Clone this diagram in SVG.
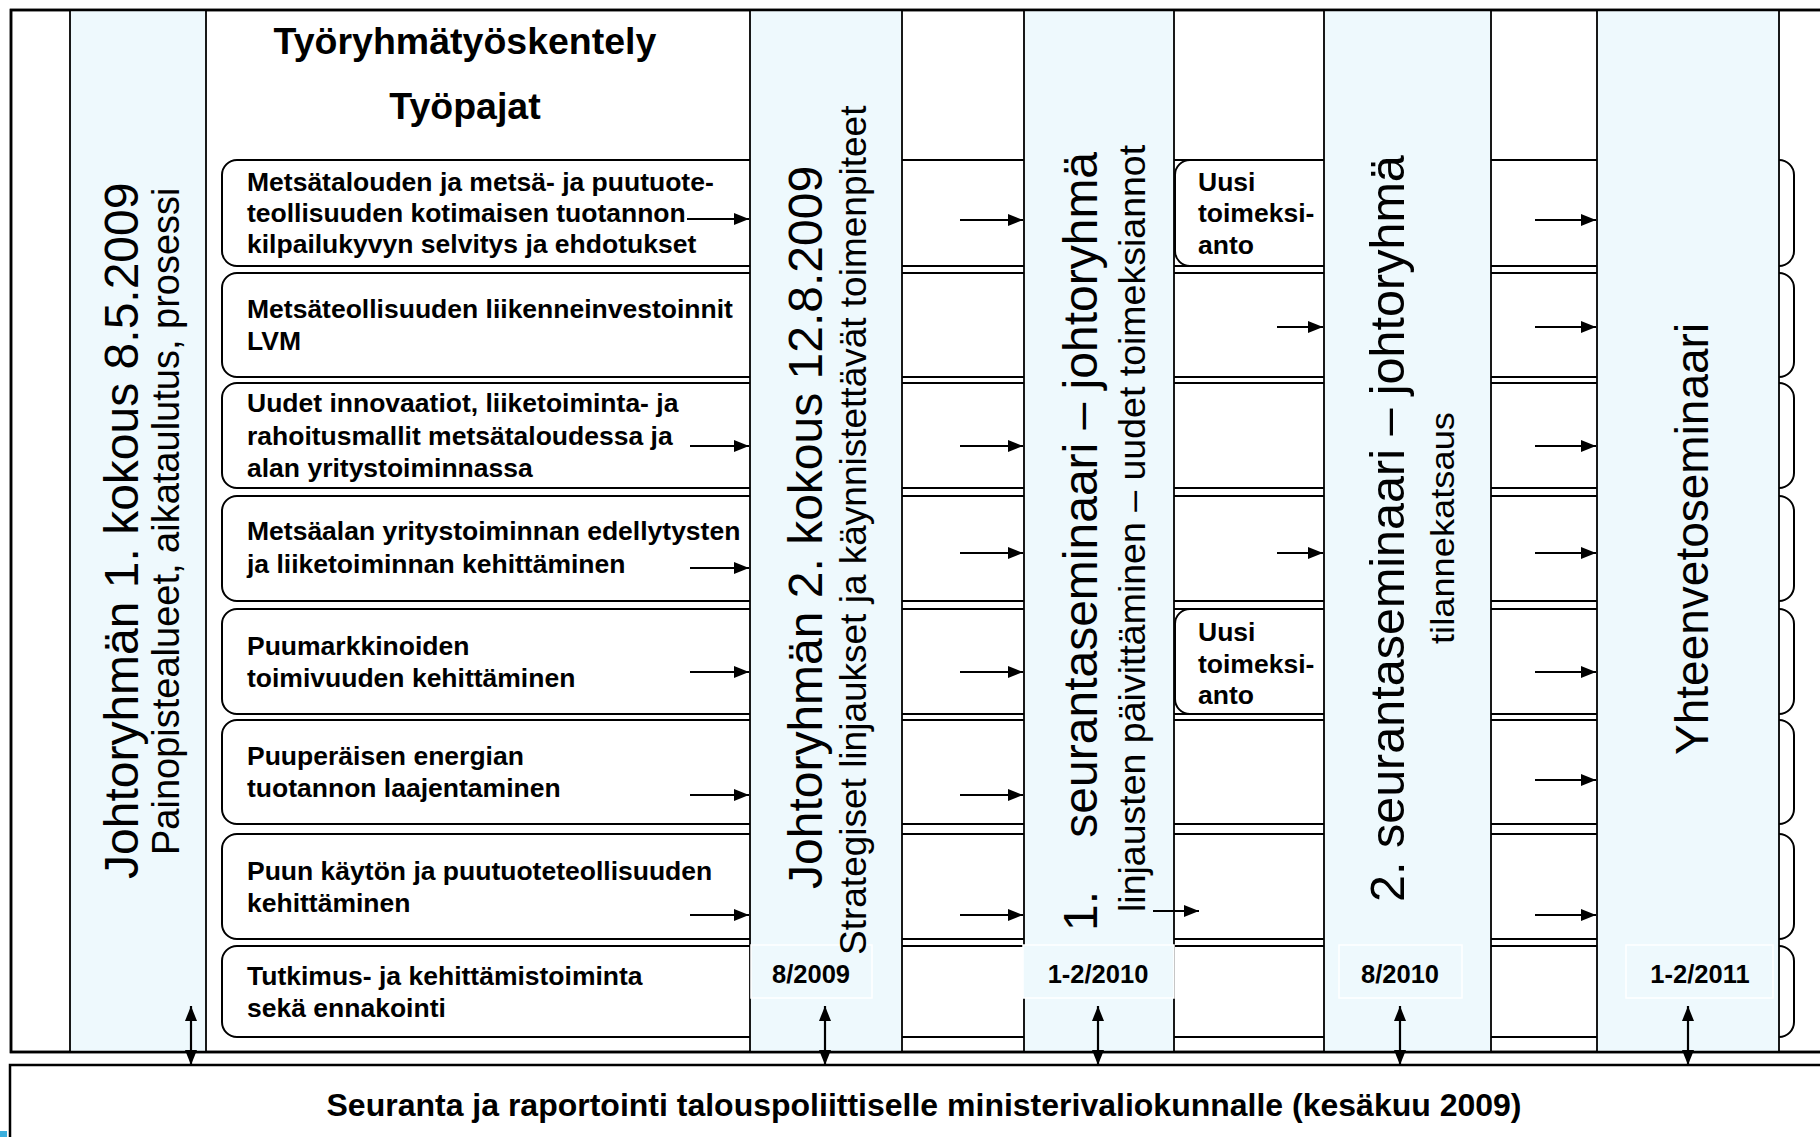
<svg xmlns="http://www.w3.org/2000/svg" width="1820" height="1137" viewBox="0 0 1820 1137">
<defs>
<marker id="ah" viewBox="0 0 15 12" refX="15" refY="6" markerWidth="15" markerHeight="12" markerUnits="userSpaceOnUse" orient="auto-start-reverse"><path d="M0,0 L15,6 L0,12 z" fill="#000"/></marker>
<style>
.frame{fill:#fff;stroke:#000;stroke-width:2.5}
.outline{fill:none;stroke:#000;stroke-width:2.5}
.col{fill:#EEF9FD;stroke:#000;stroke-width:1.8}
.box{fill:#fff;stroke:#000;stroke-width:2}
.date{fill:#EEF9FD;stroke:#fff;stroke-width:1.5}
.bt{font-family:"Liberation Sans",Arial,sans-serif;font-weight:bold;font-size:26.5px;fill:#000}
.ttl{font-family:"Liberation Sans",Arial,sans-serif;font-weight:bold;font-size:37.5px;fill:#000;text-anchor:middle}
.dt{font-family:"Liberation Sans",Arial,sans-serif;font-weight:bold;font-size:25.5px;fill:#000;text-anchor:middle}
.vb{font-family:"Liberation Sans",Arial,sans-serif;font-size:48px;fill:#000}
.vs{font-family:"Liberation Sans",Arial,sans-serif;font-size:37px;fill:#000}
.arr{stroke:#000;stroke-width:2.2;fill:none;marker-end:url(#ah)}
.darr{stroke:#000;stroke-width:2.2;fill:none;marker-start:url(#ah);marker-end:url(#ah)}
</style>
</defs>
<rect x="0" y="0" width="1820" height="1137" fill="#fff"/>
<rect class="frame" x="11" y="10" width="1840" height="1042"/>
<rect x="0" y="1131" width="7" height="6" fill="#3AAEDC"/>

<g id="col-johtoryhma1">
<rect class="col" x="70" y="10" width="136" height="1042"/>
<text class="vb" transform="translate(138,879) rotate(-90)">Johtoryhmän 1. kokous 8.5.2009</text>
<text class="vs" style="font-size:38px" transform="translate(179,855) rotate(-90)">Painopistealueet, aikataulutus, prosessi</text>
</g>

<g id="titles">
<text class="ttl" x="465" y="54">Työryhmätyöskentely</text>
<text class="ttl" x="465" y="119">Työpajat</text>
</g>

<g id="ws1"><rect class="box" x="222" y="160" width="1572" height="106" rx="15"/>
<text class="bt"><tspan x="247" y="191">Metsätalouden ja metsä- ja puutuote-</tspan><tspan x="247" y="222">teollisuuden kotimaisen tuotannon</tspan><tspan x="247" y="253">kilpailukyvyn selvitys ja ehdotukset</tspan></text></g>
<g id="ws2"><rect class="box" x="222" y="273" width="1572" height="104" rx="15"/>
<text class="bt"><tspan x="247" y="318">Metsäteollisuuden liikenneinvestoinnit</tspan><tspan x="247" y="350">LVM</tspan></text></g>
<g id="ws3"><rect class="box" x="222" y="383" width="1572" height="105" rx="15"/>
<text class="bt"><tspan x="247" y="412">Uudet innovaatiot, liiketoiminta- ja</tspan><tspan x="247" y="445">rahoitusmallit metsätaloudessa ja</tspan><tspan x="247" y="477">alan yritystoiminnassa</tspan></text></g>
<g id="ws4"><rect class="box" x="222" y="496" width="1572" height="105" rx="15"/>
<text class="bt"><tspan x="247" y="540">Metsäalan yritystoiminnan edellytysten</tspan><tspan x="247" y="573">ja liiketoiminnan kehittäminen</tspan></text></g>
<g id="ws5"><rect class="box" x="222" y="609" width="1572" height="105" rx="15"/>
<text class="bt"><tspan x="247" y="655">Puumarkkinoiden</tspan><tspan x="247" y="687">toimivuuden kehittäminen</tspan></text></g>
<g id="ws6"><rect class="box" x="222" y="720" width="1572" height="104" rx="15"/>
<text class="bt"><tspan x="247" y="765">Puuperäisen energian</tspan><tspan x="247" y="797">tuotannon laajentaminen</tspan></text></g>
<g id="ws7"><rect class="box" x="222" y="834" width="1572" height="105" rx="15"/>
<text class="bt"><tspan x="247" y="880">Puun käytön ja puutuoteteollisuuden</tspan><tspan x="247" y="912">kehittäminen</tspan></text></g>
<g id="ws8"><rect class="box" x="222" y="946" width="1572" height="91" rx="15"/>
<text class="bt"><tspan x="247" y="985">Tutkimus- ja kehittämistoiminta</tspan><tspan x="247" y="1017">sekä ennakointi</tspan></text></g>

<g id="col-johtoryhma2">
<rect class="col" x="750" y="10" width="152" height="1042"/>
<rect class="date" x="751" y="945" width="121" height="53"/>
<text class="dt" x="811" y="983">8/2009</text>
<text class="vb" transform="translate(822,889) rotate(-90)">Johtoryhmän 2. kokous 12.8.2009</text>
<text class="vs" transform="translate(866,955) rotate(-90)">Strategiset linjaukset ja käynnistettävät toimenpiteet</text>
</g>

<g id="col-seuranta1">
<rect class="col" x="1024" y="10" width="150" height="1042"/>
<rect class="date" x="1023" y="945" width="151" height="53"/>
<text class="dt" x="1098" y="983">1-2/2010</text>
<text class="vb" transform="translate(1097,931) rotate(-90)">1.&#160;&#160;&#160; seurantaseminaari – johtoryhmä</text>
<text class="vs" style="font-size:37.5px" transform="translate(1145,912) rotate(-90)">linjausten päivittäminen – uudet toimeksiannot</text>
</g>

<g id="uusi1"><rect class="box" x="1175" y="160" width="170" height="106" rx="15"/>
<text class="bt"><tspan x="1198" y="191">Uusi</tspan><tspan x="1198" y="222">toimeksi-</tspan><tspan x="1198" y="254">anto</tspan></text></g>
<g id="uusi2"><rect class="box" x="1175" y="609" width="170" height="105" rx="15"/>
<text class="bt"><tspan x="1198" y="641">Uusi</tspan><tspan x="1198" y="673">toimeksi-</tspan><tspan x="1198" y="704">anto</tspan></text></g>

<g id="col-seuranta2">
<rect class="col" x="1324" y="10" width="167" height="1042"/>
<rect class="date" x="1339" y="945" width="123" height="53"/>
<text class="dt" x="1400" y="983">8/2010</text>
<text class="vb" style="font-size:48.5px" transform="translate(1404,902) rotate(-90)">2. seurantaseminaari – johtoryhmä</text>
<text class="vs" style="font-size:33px" textLength="232" lengthAdjust="spacingAndGlyphs" transform="translate(1454,644) rotate(-90)">tilannekatsaus</text>
</g>

<g id="col-yhteenveto">
<rect class="col" x="1597" y="10" width="182" height="1042"/>
<rect class="date" x="1626" y="945" width="147" height="53"/>
<text class="dt" x="1700" y="983">1-2/2011</text>
<text class="vb" style="font-size:46px" transform="translate(1708,755) rotate(-90)">Yhteenvetoseminaari</text>
</g>

<rect class="outline" x="11" y="10" width="1840" height="1042"/>

<g id="reporting">
<rect class="frame" x="10" y="1065" width="1840" height="100"/>
<text class="bt" style="font-size:32px" x="924" y="1116" text-anchor="middle">Seuranta ja raportointi talouspoliittiselle ministerivaliokunnalle (kesäkuu 2009)</text>
</g>

<g id="connectors">
<line class="arr" x1="687" y1="219" x2="749" y2="219"/>
<line class="arr" x1="690" y1="446" x2="749" y2="446"/>
<line class="arr" x1="690" y1="568" x2="749" y2="568"/>
<line class="arr" x1="690" y1="672" x2="749" y2="672"/>
<line class="arr" x1="690" y1="795" x2="749" y2="795"/>
<line class="arr" x1="690" y1="915" x2="749" y2="915"/>

<line class="arr" x1="960" y1="220" x2="1023" y2="220"/>
<line class="arr" x1="960" y1="446" x2="1023" y2="446"/>
<line class="arr" x1="960" y1="553" x2="1023" y2="553"/>
<line class="arr" x1="960" y1="672" x2="1023" y2="672"/>
<line class="arr" x1="960" y1="795" x2="1023" y2="795"/>
<line class="arr" x1="960" y1="915" x2="1023" y2="915"/>

<line class="arr" x1="1277" y1="327" x2="1323" y2="327"/>
<line class="arr" x1="1277" y1="553" x2="1323" y2="553"/>
<line class="arr" x1="1153" y1="911" x2="1199" y2="911"/>

<line class="arr" x1="1535" y1="220" x2="1596" y2="220"/>
<line class="arr" x1="1535" y1="327" x2="1596" y2="327"/>
<line class="arr" x1="1535" y1="446" x2="1596" y2="446"/>
<line class="arr" x1="1535" y1="553" x2="1596" y2="553"/>
<line class="arr" x1="1535" y1="672" x2="1596" y2="672"/>
<line class="arr" x1="1535" y1="780" x2="1596" y2="780"/>
<line class="arr" x1="1535" y1="915" x2="1596" y2="915"/>

<line class="darr" x1="191" y1="1006" x2="191" y2="1065"/>
<line class="darr" x1="825" y1="1006" x2="825" y2="1065"/>
<line class="darr" x1="1098" y1="1006" x2="1098" y2="1065"/>
<line class="darr" x1="1400" y1="1006" x2="1400" y2="1065"/>
<line class="darr" x1="1688" y1="1006" x2="1688" y2="1065"/>
</g>
</svg>
